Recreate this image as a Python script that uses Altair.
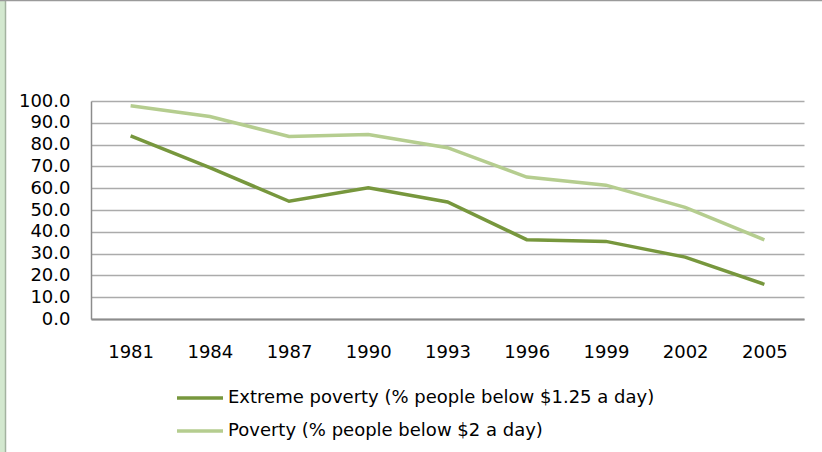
import altair as alt
import pandas as pd

# Poverty headcount ratios, 1981-2005
years = ["1981", "1984", "1987", "1990", "1993", "1996", "1999", "2002", "2005"]
extreme_poverty = [84.0, 69.4, 54.0, 60.2, 53.7, 36.4, 35.6, 28.4, 15.9]
poverty = [97.8, 92.9, 83.7, 84.6, 78.6, 65.1, 61.4, 51.2, 36.3]

s_extreme = "Extreme poverty (% people below $1.25 a day)"
s_poverty = "Poverty (% people below $2 a day)"
series_names = [s_extreme, s_poverty]
series_colors = ["#77973d", "#b5cd8f"]

rows = []
for y, a, b in zip(years, extreme_poverty, poverty):
    rows.append({"year": y, "series": s_extreme, "value": a})
    rows.append({"year": y, "series": s_poverty, "value": b})
df = pd.DataFrame(rows)
legend_df = pd.DataFrame({"series": series_names})

W, H = 713, 218
LEFT, TOP = 91, 101

color = alt.Color("series:N", scale=alt.Scale(domain=series_names, range=series_colors),
                  legend=None)

lines = alt.Chart(df).mark_line(strokeWidth=3.5, strokeCap="butt").encode(
    x=alt.X("year:O", sort=years,
            scale=alt.Scale(type="point", padding=0.5),
            axis=alt.Axis(title=None, labelAngle=0, domain=True, domainColor="#8c8c8c",
                          domainWidth=2, ticks=False,
                          labelPadding=24, labelFontSize=18, labelFont="DejaVu Sans",
                          labelColor="#000000", grid=False)),
    y=alt.Y("value:Q", scale=alt.Scale(domain=[0, 100], nice=False),
            axis=alt.Axis(title=None, values=list(range(0, 101, 10)), format=".1f",
                          labelOverlap=False,
                          domain=True, domainColor="#8c8c8c", domainWidth=1.5,
                          ticks=False, labelPadding=21, labelFontSize=18,
                          labelFont="DejaVu Sans", labelColor="#000000",
                          grid=True, gridColor="#ababab", gridWidth=1.3)),
    color=color,
)

# legend below the plot: one row per series
legend_y = alt.Y("series:N", scale=alt.Scale(type="point", domain=series_names,
                                             range=[297, 330], padding=0), axis=None)
legend_swatch = alt.Chart(legend_df).mark_rule(strokeWidth=3.5).encode(
    x=alt.value(86), x2=alt.value(132), y=legend_y, color=color,
)
legend_text = alt.Chart(legend_df).mark_text(
    align="left", baseline="middle", font="DejaVu Sans", fontSize=18, color="#000000"
).encode(
    x=alt.value(137), y=legend_y, text="series:N",
)

# frame: light green strip on the left edge and a thin grey line on top
strip = alt.Chart(pd.DataFrame({"a": [0]})).mark_rect(color="#d3e8cf").encode(
    x=alt.value(-LEFT), x2=alt.value(-LEFT + 5),
    y=alt.value(-TOP), y2=alt.value(452 - TOP),
)
strip_edge = alt.Chart(pd.DataFrame({"a": [0]})).mark_rule(color="#a3b2a0", strokeWidth=1.5).encode(
    x=alt.value(-LEFT + 5.5),
    y=alt.value(-TOP), y2=alt.value(452 - TOP),
)
top_edge = alt.Chart(pd.DataFrame({"a": [0]})).mark_rule(color="#9a9a9a", strokeWidth=1.5).encode(
    x=alt.value(-LEFT), x2=alt.value(822 - LEFT),
    y=alt.value(-TOP + 0.5),
)

chart = alt.layer(lines, legend_swatch, legend_text, strip, strip_edge, top_edge).resolve_scale(
    y="independent"
).properties(
    width=W, height=H,
    autosize=alt.AutoSizeParams(type="none"),
    padding={"left": LEFT, "top": TOP, "right": 822 - LEFT - W, "bottom": 452 - TOP - H},
    background="#ffffff",
).configure_view(stroke=None)

chart.save("out.html", embed_options={"renderer": "svg", "actions": False})
